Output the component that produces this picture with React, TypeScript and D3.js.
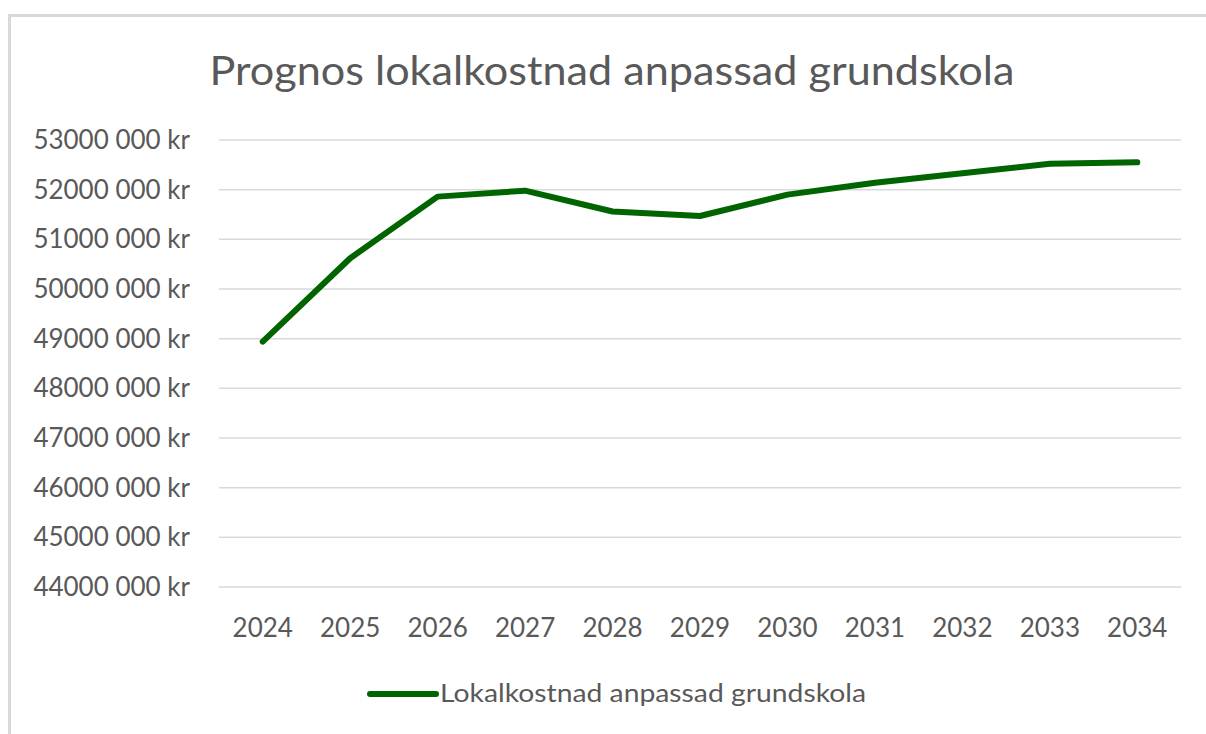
import React, { useEffect, useRef } from 'react';
import * as d3 from 'd3';

const years = ['2024', '2025', '2026', '2027', '2028', '2029', '2030', '2031', '2032', '2033', '2034'];
const costs = [48940000, 50620000, 51860000, 51980000, 51560000, 51470000, 51900000, 52140000, 52330000, 52520000, 52550000];
const yTicks = [44000000, 45000000, 46000000, 47000000, 48000000, 49000000, 50000000, 51000000, 52000000, 53000000];
const seriesName = 'Lokalkostnad anpassad grundskola';
const title = 'Prognos lokalkostnad anpassad grundskola';

const W = 1206;
const H = 734;
const FONT = 'Lato, Carlito, "Open Sans", sans-serif';
const TEXT = '#595959';
const GREEN = '#006400';

const fmt = (v: number) => `${Math.round(v / 1000000) * 1000} 000 kr`;

const App: React.FC = () => {
  const ref = useRef<SVGSVGElement>(null);

  useEffect(() => {
    const svg = d3.select(ref.current!);
    svg.selectAll('*').remove();

    svg.append('rect').attr('width', W).attr('height', H).attr('fill', '#fff');

    // chart frame (only top and left edges are in view)
    svg
      .append('path')
      .attr('d', `M9.5,${H}V15.5H${W}`)
      .attr('fill', 'none')
      .attr('stroke', '#d9d9d9')
      .attr('stroke-width', 3);

    const x = d3.scalePoint<string>().domain(years).range([219, 1181]).padding(0.5);
    const y = d3.scaleLinear().domain([44000000, 53000000]).range([587, 140]);

    // gridlines
    svg
      .append('g')
      .selectAll('line')
      .data(yTicks)
      .enter()
      .append('line')
      .attr('x1', 219)
      .attr('x2', 1181)
      .attr('y1', (d) => y(d))
      .attr('y2', (d) => y(d))
      .attr('stroke', '#d9d9d9')
      .attr('stroke-width', 1.5);

    // y labels
    svg
      .append('g')
      .selectAll('text')
      .data(yTicks)
      .enter()
      .append('text')
      .attr('x', 190)
      .attr('y', (d) => y(d) + 9)
      .attr('text-anchor', 'end')
      .attr('font-family', FONT)
      .attr('font-size', 26)
      .attr('fill', TEXT)
      .text(fmt);

    // x labels
    svg
      .append('g')
      .selectAll('text')
      .data(years)
      .enter()
      .append('text')
      .attr('x', (d) => x(d)!)
      .attr('y', 637)
      .attr('text-anchor', 'middle')
      .attr('font-family', FONT)
      .attr('font-size', 26)
      .attr('fill', TEXT)
      .text((d) => d);

    const line = d3
      .line<number>()
      .x((_, i) => x(years[i])!)
      .y((d) => y(d));

    svg
      .append('path')
      .datum(costs)
      .attr('d', line)
      .attr('fill', 'none')
      .attr('stroke', GREEN)
      .attr('stroke-width', 6)
      .attr('stroke-linejoin', 'round')
      .attr('stroke-linecap', 'round');

    // title
    svg
      .append('text')
      .attr('x', 612)
      .attr('y', 85)
      .attr('text-anchor', 'middle')
      .attr('font-family', FONT)
      .attr('font-size', 41)
      .attr('fill', TEXT)
      .attr('textLength', 805)
      .attr('lengthAdjust', 'spacingAndGlyphs')
      .text(title);

    // legend
    svg
      .append('line')
      .attr('x1', 370)
      .attr('x2', 436)
      .attr('y1', 694)
      .attr('y2', 694)
      .attr('stroke', GREEN)
      .attr('stroke-width', 6)
      .attr('stroke-linecap', 'round');

    svg
      .append('text')
      .attr('x', 440)
      .attr('y', 702)
      .attr('font-family', FONT)
      .attr('font-size', 25)
      .attr('fill', TEXT)
      .attr('textLength', 426)
      .attr('lengthAdjust', 'spacingAndGlyphs')
      .text(seriesName);
  }, []);

  return (
    <div style={{ position: 'fixed', left: 0, top: 0 }}>
      <svg ref={ref} width={W} height={H} style={{ display: 'block' }} />
    </div>
  );
};

export default App;
